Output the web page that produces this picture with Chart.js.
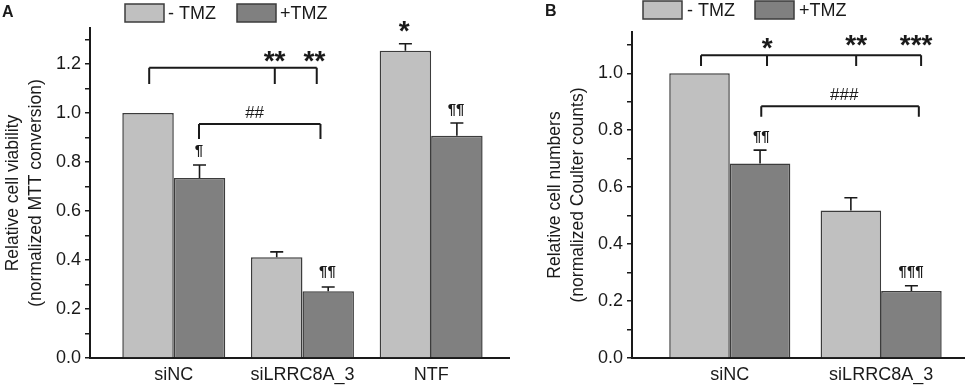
<!DOCTYPE html>
<html>
<head>
<meta charset="utf-8">
<script src="https://cdn.jsdelivr.net/npm/chart.js@4.4.0/dist/chart.umd.min.js"></script>
<style>
  body { margin: 0; background: #fff; }
  #wrap { position: relative; width: 965px; height: 387px; overflow: hidden; }
  canvas { position: absolute; top: 0; }
</style>
</head>
<body>
<div id="wrap">
  <canvas id="chartA" width="515" height="387" style="left:0px"></canvas>
  <canvas id="chartB" width="445" height="387" style="left:520px"></canvas>
</div>
<script>
// panel A - MTT viability
const groupsA = ['siNC', 'siLRRC8A_3', 'NTF'];
const minusTmzA = [1.0, 0.411, 1.254];
const plusTmzA = [0.735, 0.272, 0.907];
const minusErrA = [0, 0.022, 0.029];
const plusErrA = [0.053, 0.018, 0.052];
const yTicksA = [0, 0.2, 0.4, 0.6, 0.8, 1.0, 1.2];

// panel B - Coulter counts
const groupsB = ['siNC', 'siLRRC8A_3'];
const minusTmzB = [1.0, 0.518];
const plusTmzB = [0.683, 0.235];
const minusErrB = [0, 0.045];
const plusErrB = [0.047, 0.019];
const yTicksB = [0, 0.2, 0.4, 0.6, 0.8, 1.0];

const seriesLabels = ['- TMZ', '+TMZ'];

// significance brackets and signs (x in group units, y in axis units)
const bracketsA = [
  { xs: [0.809, 1.785, 2.111], top: 1.185, bottom: 1.118 },
  { xs: [1.196, 2.14], top: 0.955, bottom: 0.894 }
];
const signsA = [
  { text: '**', x: 1.783, y: 1.230, kind: 'star' },
  { text: '**', x: 2.093, y: 1.230, kind: 'star' },
  { text: '*', x: 2.79, y: 1.352, kind: 'star' },
  { text: '##', x: 1.628, y: 1.006, kind: 'hash' },
  { text: '¶', x: 1.196, y: 0.841, kind: 'para' },
  { text: '¶¶', x: 2.194, y: 0.349, kind: 'para' },
  { text: '¶¶', x: 3.194, y: 1.012, kind: 'para' }
];
const bracketsB = [
  { xs: [0.81, 1.246, 1.835, 2.264], top: 1.063, bottom: 1.026 },
  { xs: [1.208, 2.249], top: 0.884, bottom: 0.847 }
];
const signsB = [
  { text: '*', x: 1.2475, y: 1.105, kind: 'star' },
  { text: '**', x: 1.835, y: 1.116, kind: 'star' },
  { text: '***', x: 2.231, y: 1.116, kind: 'star' },
  { text: '###', x: 1.756, y: 0.926, kind: 'hash' },
  { text: '¶¶', x: 1.208, y: 0.775, kind: 'para' },
  { text: '¶¶¶', x: 2.198, y: 0.302, kind: 'para' }
];

const FONT = 'Arial, "Liberation Sans", sans-serif';
const INK = '#1a1a1a';
const barFill = ['#c0c0c0', '#808080'];
const barEdge = '#3c3c3c';
const signFonts = { star: 'bold 28px ' + FONT, hash: '17px ' + FONT, para: 'bold 15px ' + FONT };

Chart.defaults.font.family = FONT;
Chart.defaults.color = INK;

const annotate = {
    id: 'annotate',
    afterDatasetsDraw(chart, args, opts) {
        const { ctx } = chart;
        const xs = chart.scales.x;
        const ys = chart.scales.y;
        ctx.save();
        ctx.strokeStyle = INK;

        // upper error bars
        ctx.lineWidth = 1.6;
        opts.errors.forEach((errs, di) => {
            const meta = chart.getDatasetMeta(di);
            meta.data.forEach((bar, i) => {
                if (!errs[i]) return;
                const val = chart.data.datasets[di].data[i].y;
                const top = ys.getPixelForValue(val + errs[i]);
                ctx.beginPath();
                ctx.moveTo(bar.x, bar.y);
                ctx.lineTo(bar.x, top);
                ctx.moveTo(bar.x - 6.5, top);
                ctx.lineTo(bar.x + 6.5, top);
                ctx.stroke();
            });
        });

        // brackets
        ctx.lineWidth = 2;
        for (const b of opts.brackets) {
            const top = ys.getPixelForValue(b.top);
            const bottom = ys.getPixelForValue(b.bottom);
            const px = b.xs.map((v) => xs.getPixelForValue(v));
            ctx.beginPath();
            ctx.moveTo(px[0], top);
            ctx.lineTo(px[px.length - 1], top);
            for (const p of px) {
                ctx.moveTo(p, top);
                ctx.lineTo(p, bottom);
            }
            ctx.stroke();
        }

        // signs, centred on their glyphs
        ctx.fillStyle = INK;
        ctx.textAlign = 'center';
        ctx.textBaseline = 'alphabetic';
        for (const s of opts.signs) {
            ctx.font = signFonts[s.kind];
            const m = ctx.measureText(s.text);
            const cy = ys.getPixelForValue(s.y);
            const base = cy + (m.actualBoundingBoxAscent - m.actualBoundingBoxDescent) / 2;
            ctx.fillText(s.text, xs.getPixelForValue(s.x), base);
        }
        ctx.restore();
    },
    afterDraw(chart, args, opts) {
        const { ctx } = chart;
        const lg = opts.legend;
        ctx.save();
        ctx.font = '18px ' + FONT;
        ctx.textBaseline = 'middle';
        ctx.textAlign = 'left';
        chart.data.datasets.forEach((ds, i) => {
            const x = lg.x + i * lg.gap;
            ctx.fillStyle = ds.backgroundColor;
            ctx.fillRect(x, lg.y, lg.w, lg.h);
            ctx.strokeStyle = barEdge;
            ctx.lineWidth = 1.5;
            ctx.strokeRect(x, lg.y, lg.w, lg.h);
            ctx.fillStyle = INK;
            ctx.fillText(ds.label, x + lg.w + lg.dx, lg.y + lg.h / 2 + 1);
        });
        ctx.font = 'bold 16px ' + FONT;
        ctx.fillText(opts.panel.text, opts.panel.x, opts.panel.y);
        ctx.restore();
    }
};

function makeChart(id, p) {
    const toPoints = (vals) => vals.map((v, i) => ({ x: i + 1, y: v }));
    return new Chart(document.getElementById(id), {
        type: 'bar',
        data: {
            datasets: [p.minus, p.plus].map((vals, i) => ({
                label: seriesLabels[i],
                data: toPoints(vals),
                backgroundColor: barFill[i],
                borderColor: barEdge,
                borderWidth: 1.5,
                categoryPercentage: 0.8,
                barPercentage: 1.0
            }))
        },
        options: {
            responsive: false,
            animation: false,
            layout: { padding: p.padding },
            plugins: {
                legend: { display: false },
                tooltip: { enabled: false },
                annotate: {
                    errors: p.errors,
                    brackets: p.brackets,
                    signs: p.signs,
                    legend: p.legend,
                    panel: p.panel
                }
            },
            scales: {
                x: {
                    type: 'linear',
                    offset: false,
                    min: p.xMin,
                    max: p.xMax,
                    afterBuildTicks: (s) => { s.ticks = p.groups.map((g, i) => ({ value: i + 1 })); },
                    afterFit: (s) => { s.height = 387 - p.bottom; },
                    grid: { offset: false, drawOnChartArea: false, drawTicks: false },
                    border: { display: true, color: INK, width: 2 },
                    ticks: {
                        autoSkip: false,
                        maxRotation: 0,
                        padding: 6,
                        font: { size: 18 },
                        callback: (v) => p.groups[Math.round(v) - 1]
                    }
                },
                y: {
                    min: 0,
                    max: p.yMax,
                    afterBuildTicks: (s) => {
                        const t = [];
                        for (let i = 0; i <= Math.floor(p.yMax * 10 + 1e-6); i++) t.push({ value: i / 10 });
                        s.ticks = t;
                    },
                    afterFit: (s) => { s.width = p.axisLeft; },
                    grid: { drawOnChartArea: false, drawTicks: true, tickLength: 5, color: INK, lineWidth: 1.5 },
                    border: { display: true, color: INK, width: 2 },
                    ticks: {
                        autoSkip: false,
                        padding: 4,
                        font: { size: 18 },
                        callback: (v) => p.yTicks.some((t) => Math.abs(t - v) < 1e-6) ? v.toFixed(1) : ''
                    },
                    title: {
                        display: true,
                        text: p.title,
                        font: { size: 17.5, lineHeight: 1.35 },
                        padding: { top: p.titlePad, bottom: 0 }
                    }
                }
            }
        },
        plugins: [annotate]
    });
}

makeChart('chartA', {
    groups: groupsA, minus: minusTmzA, plus: plusTmzA,
    errors: [minusErrA, plusErrA], yTicks: yTicksA,
    brackets: bracketsA, signs: signsA,
    title: ['Relative cell viability', '(normalized MTT conversion)'],
    xMin: 0.349, xMax: 3.605, yMax: 1.347,
    axisLeft: 90, bottom: 358, titlePad: 1,
    padding: { top: 28, right: 6, bottom: 0, left: 0 },
    legend: { x: 125, y: 4, w: 39, h: 18, gap: 112, dx: 4 },
    panel: { text: 'A', x: 2, y: 13 }
});

makeChart('chartB', {
    groups: groupsB, minus: minusTmzB, plus: plusTmzB,
    errors: [minusErrB, plusErrB], yTicks: yTicksB,
    brackets: bracketsB, signs: signsB,
    title: ['Relative cell numbers', '(normalized Coulter counts)'],
    xMin: 0.354, xMax: 2.554, yMax: 1.145,
    axisLeft: 112, bottom: 358, titlePad: 23,
    padding: { top: 32, right: 0, bottom: 0, left: 0 },
    legend: { x: 123, y: 1, w: 39, h: 18, gap: 112, dx: 5 },
    panel: { text: 'B', x: 25, y: 12 }
});
</script>
</body>
</html>
